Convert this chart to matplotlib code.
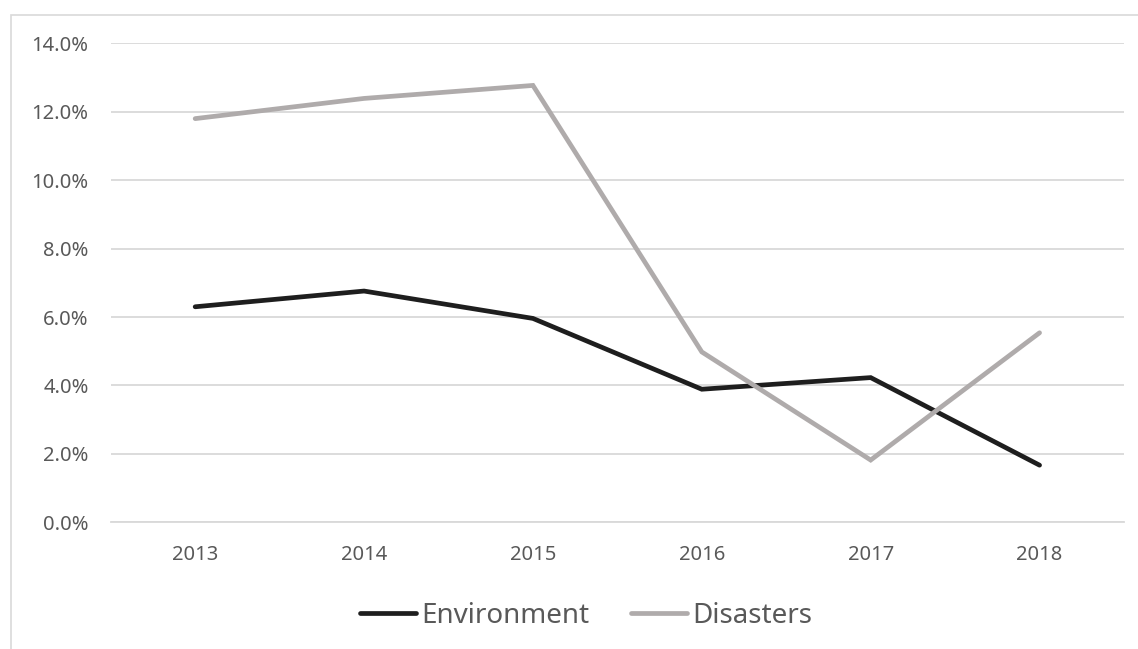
import matplotlib.pyplot as plt
from matplotlib.patches import Rectangle
from matplotlib.ticker import FuncFormatter, MultipleLocator

plt.rcParams["font.family"] = ["Noto Sans", "DejaVu Sans"]

years = ["2013", "2014", "2015", "2016", "2017", "2018"]
environment = [6.30, 6.76, 5.96, 3.89, 4.23, 1.67]
disasters = [11.80, 12.39, 12.77, 4.98, 1.82, 5.54]

TEXT = "#595959"
GRID = "#d9d9d9"
ENV_COLOR = "#1e1e1e"
DIS_COLOR = "#afabab"

fig = plt.figure(figsize=(11.38, 6.49), dpi=100)
ax = fig.add_axes((0.0973, 0.1952, 0.8904, 0.738))

x = range(len(years))
ax.plot(x, environment, color=ENV_COLOR, lw=3.4, solid_capstyle="round",
        solid_joinstyle="miter", label="Environment")
ax.plot(x, disasters, color=DIS_COLOR, lw=3.4, solid_capstyle="round",
        solid_joinstyle="miter", label="Disasters")

ax.set_xlim(-0.5, len(years) - 0.5)
ax.set_ylim(0, 14)
ax.set_xticks(list(x))
ax.set_xticklabels(years)
ax.yaxis.set_major_locator(MultipleLocator(2))
ax.yaxis.set_major_formatter(FuncFormatter(lambda v, _: f"{v:.1f}%"))
ax.tick_params(axis="both", length=0, labelsize=14.5, labelcolor=TEXT)
ax.tick_params(axis="y", pad=16)
ax.tick_params(axis="x", pad=16.5)
ax.grid(axis="y", color=GRID, lw=1.3)
ax.set_axisbelow(True)
for side in ("top", "right", "left"):
    ax.spines[side].set_visible(False)
ax.spines["bottom"].set_color(GRID)
ax.spines["bottom"].set_linewidth(1.3)

leg = ax.legend(loc="center", bbox_to_anchor=(0.4695, -0.195), ncol=2,
                frameon=False, fontsize=20, handlelength=2.0,
                handletextpad=0.2, columnspacing=1.5, borderaxespad=0)
for t in leg.get_texts():
    t.set_color(TEXT)

# chart area outline, cut off at the right and bottom edges
fig.patches.append(Rectangle((11 / 1138, -0.05), 1.1, (649 - 15) / 649 + 0.05,
                             transform=fig.transFigure, fill=False,
                             edgecolor=GRID, lw=1.2))

fig.savefig("out.png", dpi=100, facecolor="white")
